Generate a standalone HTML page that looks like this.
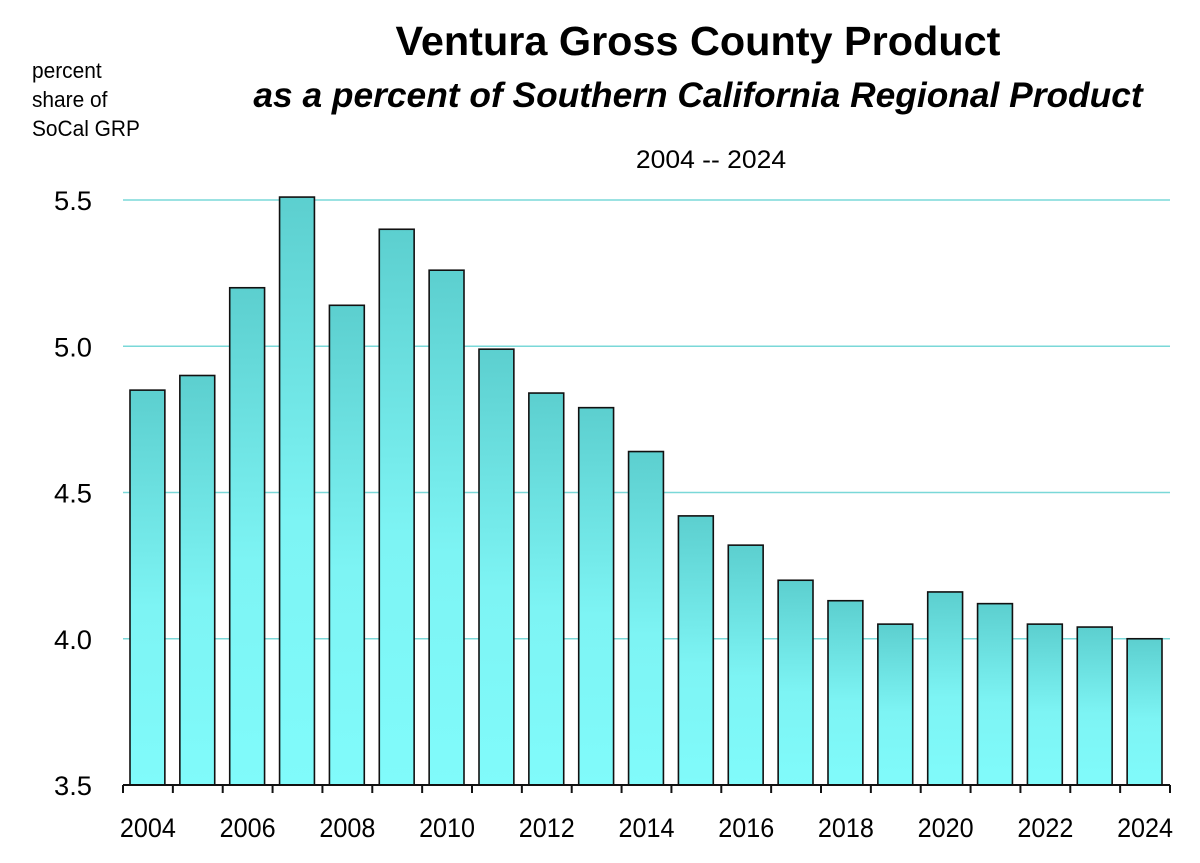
<!DOCTYPE html>
<html><head><meta charset="utf-8"><style>
html,body{margin:0;padding:0;background:#fff;}
svg{display:block;font-family:"Liberation Sans",Arial,sans-serif;}
</style></head><body>
<svg id="chart" width="1200" height="863" viewBox="0 0 1200 863">
<defs>
<linearGradient id="barGrad" x1="0" y1="0" x2="0" y2="1">
<stop offset="0" stop-color="#5ccfcf"/>
<stop offset="0.55" stop-color="#7df4f4"/>
<stop offset="1" stop-color="#80fbfb"/>
</linearGradient>
</defs>
<text x="698" y="55" text-anchor="middle" font-size="41" font-weight="bold" transform="translate(698,0) scale(1.01,1) translate(-698,0)">Ventura Gross County Product</text>
<text x="698" y="107" text-anchor="middle" font-size="35" font-weight="bold" font-style="italic" transform="translate(698,0) scale(1.01,1) translate(-698,0)">as a percent of Southern California Regional Product</text>
<text x="711" y="168" text-anchor="middle" font-size="25" transform="translate(711,0) scale(1.06,1) translate(-711,0)">2004 -- 2024</text>
<g font-size="22" transform="translate(32,0) scale(0.95,1) translate(-32,0)">
<text x="32" y="78">percent</text>
<text x="32" y="107">share of</text>
<text x="32" y="136">SoCal GRP</text>
</g>
<g id="grid"></g>
<g id="bars"></g>
<g id="axis"></g>
</svg>
<script>
const years = [2004,2005,2006,2007,2008,2009,2010,2011,2012,2013,2014,2015,2016,2017,2018,2019,2020,2021,2022,2023,2024];
const shares = [4.85,4.90,5.20,5.51,5.14,5.40,5.26,4.99,4.84,4.79,4.64,4.42,4.32,4.20,4.13,4.05,4.16,4.12,4.05,4.04,4.00];
const yTicks = [3.5,4.0,4.5,5.0,5.5];
const xLabels = [2004,2006,2008,2010,2012,2014,2016,2018,2020,2022,2024];

const NS = "http://www.w3.org/2000/svg";
const x0 = 123, x1 = 1170, yBase = 785;
const slot = (x1 - x0) / years.length;
const yScale = v => yBase - (v - 3.5) * 292.5;
const xScale = i => x0 + i * slot;
function mk(tag, attrs){const e=document.createElementNS(NS,tag);for(const k in attrs)e.setAttribute(k,attrs[k]);return e;}

const grid = document.getElementById('grid');
yTicks.forEach(t => {
  const y = yScale(t);
  if (t > 3.5) {
    const l = mk('line',{x1:x0,x2:x1,y1:y,y2:y,stroke:'#7ad8d8','stroke-width':1.5});
    
    
    grid.appendChild(l);
  }
  const tx = mk('text',{x:92,y:y+10,'text-anchor':'end','font-size':27,textLength:38,lengthAdjust:'spacingAndGlyphs'});
  tx.textContent = t.toFixed(1);
  
  
  grid.appendChild(tx);
});

const bars = document.getElementById('bars');
years.forEach((yr,i) => {
  const top = yScale(shares[i]);
  const r = mk('rect',{x:xScale(i)+7,y:top,width:slot-15,height:yBase-top,fill:'url(#barGrad)',stroke:'#111','stroke-width':1.6});
  
  
  bars.appendChild(r);
});

const axis = document.getElementById('axis');
const ax = mk('line',{x1:x0,x2:x1,y1:yBase,y2:yBase,stroke:'#111','stroke-width':2});


axis.appendChild(ax);
for (let i=0;i<=years.length;i++){
  const t = mk('line',{x1:xScale(i),x2:xScale(i),y1:yBase,y2:yBase+8,stroke:'#111','stroke-width':2});
  
  
  axis.appendChild(t);
}
xLabels.forEach(yr => {
  const i = years.indexOf(yr);
  const cx = xScale(i) + slot/2;
  const tx = mk('text',{x:cx,y:837,'text-anchor':'middle','font-size':27,textLength:56,lengthAdjust:'spacingAndGlyphs'});
  tx.textContent = yr;
  
  
  axis.appendChild(tx);
});
</script>
</body></html>
